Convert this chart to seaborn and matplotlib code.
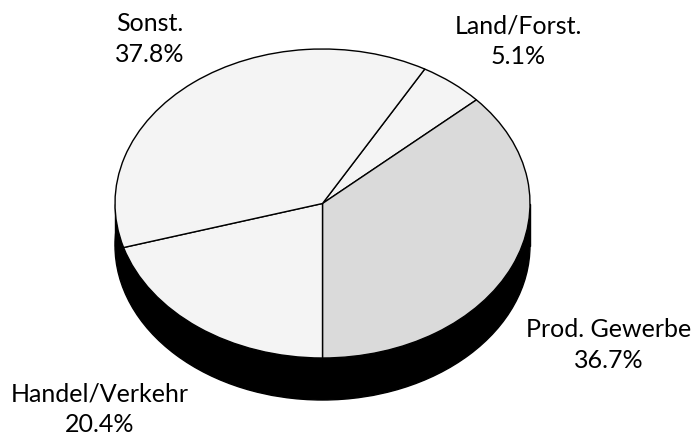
import matplotlib
matplotlib.use("Agg")
import matplotlib.pyplot as plt
import seaborn as sns
from matplotlib.patches import Ellipse, Rectangle

# ---- data ----
categories = ["Land/Forst.", "Prod. Gewerbe", "Handel/Verkehr", "Sonst."]
shares = [5.1, 36.7, 20.4, 37.8]
pct_labels = ["5.1%", "36.7%", "20.4%", "37.8%"]

# ---- style ----
slice_colors = ["#f4f4f4", "#dadada", "#f4f4f4", "#f4f4f4"]
label_pos_px = [(518, 41), (609, 345), (100, 409), (150, 39)]  # label centres in pixels (x from left, y from top)

sns.set_theme(style="white")
plt.rcParams["font.family"] = ["Lato", "DejaVu Sans"]

W, H = 698, 437
fig = plt.figure(figsize=(W / 100, H / 100), dpi=100)
ax = fig.add_axes([0, 0, 1, 1])

cx, cy = 322.5, 203.5     # pixel centre of the top face
a, b = 207.5, 154.5       # semi axes in pixels
depth = 42 / b            # side thickness in y units

start = -90 + (shares[0] + shares[1]) * 3.6

# side (black cylinder wall)
ax.add_patch(Ellipse((0, -depth), 2, 2, facecolor="black", edgecolor="black", zorder=1))
ax.add_patch(Rectangle((-1, -depth), 2, depth, facecolor="black", edgecolor="black", zorder=1))

wedges, _ = ax.pie(shares, colors=slice_colors, startangle=start, counterclock=False,
                   radius=1, center=(0, 0),
                   wedgeprops=dict(edgecolor="black", linewidth=1.0, zorder=3))
for w in wedges:
    w.set_zorder(3)

ax.set_aspect("auto")
ax.set_xlim(-cx / a, (W - cx) / a)
ax.set_ylim(-(H - cy) / b, cy / b)
ax.axis("off")

for cat, pct, (px, py) in zip(categories, pct_labels, label_pos_px):
    fig.text(px / W, 1 - py / H, f"{cat}\n{pct}", ha="center", va="center",
             multialignment="center", fontsize=18, color="black",
             fontweight="normal", linespacing=1.4)

fig.savefig("out.png", dpi=100, facecolor="white")
